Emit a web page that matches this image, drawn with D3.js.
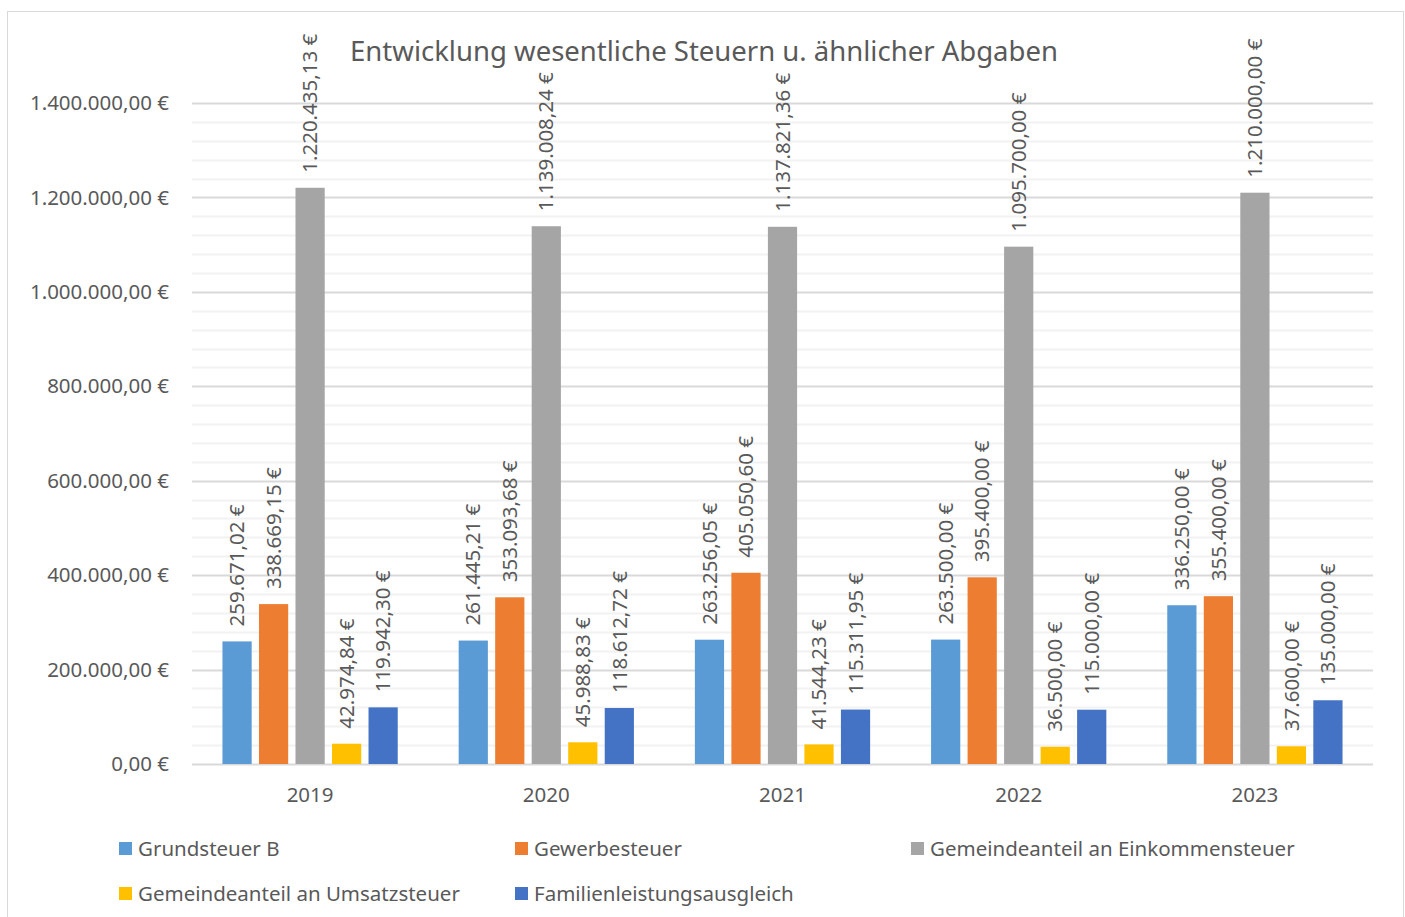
<!DOCTYPE html>
<html>
<head>
<meta charset="utf-8">
<style>
body { margin: 0; background: #fff; }
text { font-family: "Noto Sans", "Liberation Sans", sans-serif; fill: #595959; }
</style>
</head>
<body>
<script src="https://cdn.jsdelivr.net/npm/d3@7"></script>
<script>
var years = ["2019", "2020", "2021", "2022", "2023"];
var seriesNames = ["Grundsteuer B", "Gewerbesteuer", "Gemeindeanteil an Einkommensteuer",
                   "Gemeindeanteil an Umsatzsteuer", "Familienleistungsausgleich"];
var grundsteuerB = [259671.02, 261445.21, 263256.05, 263500.00, 336250.00];
var gewerbesteuer = [338669.15, 353093.68, 405050.60, 395400.00, 355400.00];
var einkommensteuer = [1220435.13, 1139008.24, 1137821.36, 1095700.00, 1210000.00];
var umsatzsteuer = [42974.84, 45988.83, 41544.23, 36500.00, 37600.00];
var familien = [119942.30, 118612.72, 115311.95, 115000.00, 135000.00];
var colors = ["#5b9bd5", "#ed7d31", "#a5a5a5", "#ffc000", "#4472c4"];
var yTicks = [0, 200000, 400000, 600000, 800000, 1000000, 1200000, 1400000];

var allSeries = [grundsteuerB, gewerbesteuer, einkommensteuer, umsatzsteuer, familien];

var width = 1405, height = 917;
var plot = {left: 192, right: 1373, top: 103, bottom: 764};
var fs = "20.5px";

var de = d3.formatLocale({decimal: ",", thousands: ".", grouping: [3], currency: ["", " €"]});
var fmt = de.format(",.2f");

var svg = d3.select("body").append("svg")
    .attr("width", width)
    .attr("height", height);

svg.append("rect")
    .attr("x", 7.5).attr("y", 11.5)
    .attr("width", 1396).attr("height", 920)
    .attr("fill", "#fff")
    .attr("stroke", "#d9d9d9");

var y = d3.scaleLinear().domain([0, 1400000]).range([plot.bottom, plot.top]);
var x0 = d3.scaleBand().domain(years).range([plot.left, plot.right]);
var bw = x0.bandwidth();
var x1 = d3.scaleBand().domain(d3.range(5))
    .range([bw * 0.129, bw * 0.871]).paddingInner(0.2);

// minor gridlines
svg.append("g").selectAll("line")
    .data(d3.range(40000, 1400000, 40000).filter(function(v) { return v % 200000 != 0; }))
    .enter().append("line")
    .attr("x1", plot.left).attr("x2", plot.right)
    .attr("y1", function(d) { return Math.round(y(d)) + 0.5; })
    .attr("y2", function(d) { return Math.round(y(d)) + 0.5; })
    .attr("stroke", "#f2f2f2").attr("stroke-width", 2);

// major gridlines
svg.append("g").selectAll("line")
    .data(yTicks)
    .enter().append("line")
    .attr("x1", plot.left).attr("x2", plot.right)
    .attr("y1", function(d) { return Math.round(y(d)) + 0.5; })
    .attr("y2", function(d) { return Math.round(y(d)) + 0.5; })
    .attr("stroke", "#d9d9d9").attr("stroke-width", 2);

// y tick labels
svg.append("g").selectAll("text")
    .data(yTicks)
    .enter().append("text")
    .attr("x", 169)
    .attr("y", function(d) { return y(d); })
    .attr("dy", "0.35em")
    .attr("text-anchor", "end")
    .style("font-size", fs)
    .text(function(d) { return fmt(d) + " €"; });

// x labels
svg.append("g").selectAll("text")
    .data(years)
    .enter().append("text")
    .attr("x", function(d) { return x0(d) + bw / 2; })
    .attr("y", 802)
    .attr("text-anchor", "middle")
    .style("font-size", fs)
    .text(function(d) { return d; });

// bars + labels
var groups = svg.append("g").selectAll("g")
    .data(years)
    .enter().append("g")
    .attr("transform", function(d) { return "translate(" + x0(d) + ",0)"; });

var cells = groups.selectAll("g")
    .data(function(d, i) {
        return allSeries.map(function(s, k) { return {k: k, v: s[i]}; });
    })
    .enter().append("g");

cells.append("rect")
    .attr("x", function(d) { return x1(d.k); })
    .attr("width", x1.bandwidth())
    .attr("y", function(d) { return y(d.v); })
    .attr("height", function(d) { return y(0) - y(d.v); })
    .attr("fill", function(d) { return colors[d.k]; });

cells.append("text")
    .attr("transform", function(d) {
        return "translate(" + (x1(d.k) + x1.bandwidth() / 2) + "," + (y(d.v) - 15) + ") rotate(-90)";
    })
    .attr("dy", "0.35em")
    .style("font-size", fs)
    .text(function(d) { return fmt(d.v) + " €"; });

// title
svg.append("text")
    .attr("x", 704)
    .attr("y", 61)
    .attr("text-anchor", "middle")
    .style("font-size", "27.5px")
    .text("Entwicklung wesentliche Steuern u. ähnlicher Abgaben");

// legend
var legendPos = [[119, 849], [515, 849], [911, 849], [119, 894], [515, 894]];
var legend = svg.append("g").selectAll("g")
    .data(seriesNames)
    .enter().append("g")
    .attr("transform", function(d, i) { return "translate(" + legendPos[i][0] + "," + legendPos[i][1] + ")"; });

legend.append("rect")
    .attr("x", 0).attr("y", -7)
    .attr("width", 13).attr("height", 13)
    .attr("fill", function(d, i) { return colors[i]; });

legend.append("text")
    .attr("x", 19)
    .attr("dy", "0.35em")
    .style("font-size", fs)
    .text(function(d) { return d; });
</script>
</body>
</html>
